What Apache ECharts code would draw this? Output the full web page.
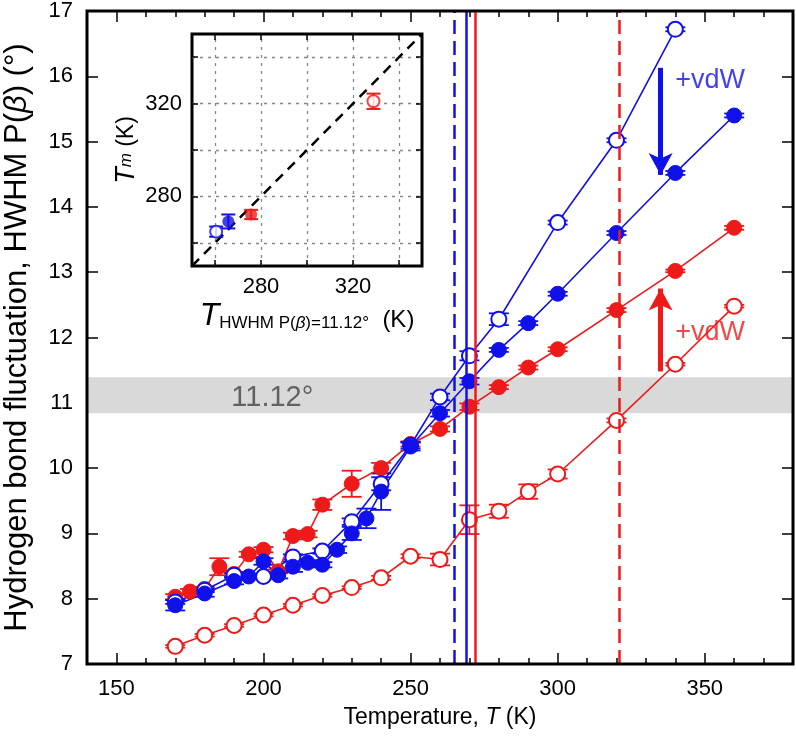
<!DOCTYPE html>
<html><head><meta charset="utf-8">
<script src="https://cdn.jsdelivr.net/npm/echarts@6/dist/echarts.min.js"></script>
<style>html,body{margin:0;padding:0;background:#fff}#c{width:796px;height:741px}</style>
</head><body><div id="c"></div>
<script>
// ---- data ----
const blueOpenT = [170,180,190,200,210,220,230,240,250,260,270,280,300,320,340];
const blueOpenV = [7.95,8.13,8.36,8.34,8.64,8.73,9.18,9.76,10.35,11.09,11.72,12.28,13.76,15.02,16.72];
const blueOpenE = [0.03,0.03,0.03,0.03,0.04,0.04,0.05,0.1,0.05,0.05,0.07,0.09,0.03,0.03,0.03];

const blueFillT = [170,180,190,195,200,205,210,215,220,225,230,235,240,250,260,270,280,290,300,320,340,360];
const blueFillV = [7.9,8.08,8.27,8.34,8.57,8.36,8.49,8.55,8.52,8.75,9.0,9.23,9.64,10.33,10.84,11.33,11.81,12.22,12.67,13.6,14.52,15.4];
const blueFillE = [0.08,0.05,0.05,0.04,0.05,0.05,0.08,0.04,0.04,0.05,0.1,0.15,0.28,0.06,0.05,0.05,0.03,0.03,0.03,0.03,0.03,0.03];

const redFillT = [170,175,180,185,190,195,200,205,210,215,220,230,240,250,260,270,280,290,300,320,340,360];
const redFillV = [8.03,8.11,8.15,8.49,8.38,8.68,8.75,8.42,8.96,8.99,9.44,9.76,10.0,10.37,10.6,10.94,11.24,11.54,11.82,12.42,13.02,13.68];
const redFillE = [0.04,0.04,0.03,0.13,0.03,0.04,0.04,0.03,0.05,0.05,0.08,0.2,0.08,0.04,0.04,0.05,0.03,0.03,0.03,0.03,0.02,0.03];

const redOpenT = [170,180,190,200,210,220,230,240,250,260,270,280,290,300,320,340,360];
const redOpenV = [7.27,7.44,7.59,7.75,7.9,8.05,8.17,8.32,8.65,8.6,9.21,9.34,9.64,9.91,10.73,11.59,12.48];
const redOpenE = [0.02,0.02,0.02,0.02,0.02,0.02,0.02,0.03,0.03,0.09,0.22,0.1,0.11,0.07,0.03,0.02,0.02];

// Tm (vertical lines / inset y) and T_HWHM (inset x): blue open, blue filled, red filled, red open
const tHWHM = [260.5, 265.8, 275.7, 328.9];
const tMelt = [264.8, 269.2, 272.2, 321.0];
const tMeltErr = [2.2, 3.0, 2.0, 3.3];

const bandRange = [10.84, 11.39];
const bandLabel = '11.12°';
const bandLabelPos = [203, 11.07];
const blueArrow = [335, 16.13, 14.49];
const redArrow = [335, 11.48, 12.75];
const vdwText = '+vdW';
const blueTextPos = [340, 15.94];
const redTextPos = [340, 12.07];
const diag = [250, 350];

const xMajor = [150,200,250,300,350];
const xMinor = [150,160,170,180,190,200,210,220,230,240,250,260,270,280,290,300,310,320,330,340,350,360,370];
const insetTicks = [260,280,300,320,340];
const insetLabels = [280,320];

// ---- style ----
const BLUE = '#1010ea', RED = '#ee1a1a';
const FONT = 'Liberation Sans';
const sty = [
  {c: BLUE, open: true, dash: [14, 7]},
  {c: BLUE, open: false, dash: 'solid'},
  {c: RED, open: false, dash: 'solid'},
  {c: RED, open: true, dash: [14, 7]}
];

function errSeries(T, V, E, color, xi, yi, capW, lw, z) {
  return {
    type: 'custom', xAxisIndex: xi, yAxisIndex: yi, z: z, silent: true,
    renderItem: function (params, api) {
      const x = api.value(0), y = api.value(1), e = api.value(2);
      const p1 = api.coord([x, y - e]), p2 = api.coord([x, y + e]);
      const h = capW / 2;
      const s = {stroke: color, lineWidth: lw};
      return {type: 'group', children: [
        {type: 'line', shape: {x1: p1[0], y1: p1[1], x2: p2[0], y2: p2[1]}, style: s},
        {type: 'line', shape: {x1: p1[0] - h, y1: p1[1], x2: p1[0] + h, y2: p1[1]}, style: s},
        {type: 'line', shape: {x1: p2[0] - h, y1: p2[1], x2: p2[0] + h, y2: p2[1]}, style: s}
      ]};
    },
    data: T.map((t, i) => [t, V[i], E[i]])
  };
}
function lineSeries(T, V, st) {
  return {
    type: 'line', xAxisIndex: 0, yAxisIndex: 0, z: 4, silent: true,
    data: T.map((t, i) => [t, V[i]]),
    symbol: 'circle', symbolSize: 15,
    lineStyle: {color: st.c, width: 1.6},
    itemStyle: st.open ? {color: '#fff', borderColor: st.c, borderWidth: 2} : {color: st.c, borderColor: st.c, borderWidth: 1},
    emphasis: {disabled: true}
  };
}

const series = [];
// gray band
series.push({
  type: 'line', xAxisIndex: 0, yAxisIndex: 0, data: [], z: 1, silent: true,
  markArea: {silent: true, itemStyle: {color: '#d9d9d9'}, data: [[{yAxis: bandRange[0]}, {yAxis: bandRange[1]}]]}
});
series.push({
  type: 'scatter', xAxisIndex: 0, yAxisIndex: 0, z: 2, silent: true, symbolSize: 0,
  data: [bandLabelPos],
  label: {show: true, position: 'inside', formatter: bandLabel, fontFamily: FONT, fontSize: 29, color: '#444'}
});
// vertical lines
tMelt.forEach((t, i) => {
  series.push({
    type: 'line', xAxisIndex: 0, yAxisIndex: 0, data: [], z: 2, silent: true,
    markLine: {silent: true, symbol: 'none', animation: false, label: {show: false},
      lineStyle: {color: sty[i].c, width: 2.5, type: sty[i].dash},
      data: [{xAxis: Math.round(t)}]}
  });
});
// arrows
[[blueArrow, BLUE], [redArrow, RED]].forEach(([a, c]) => {
  series.push({
    type: 'line', xAxisIndex: 0, yAxisIndex: 0, data: [], z: 5, silent: true,
    markLine: {silent: true, animation: false, symbol: ['none', 'arrow'], symbolSize: [18, 22], label: {show: false},
      lineStyle: {color: c, width: 5, type: 'solid'},
      data: [[{coord: [a[0], a[1]]}, {coord: [a[0], a[2]]}]]}
  });
});
// +vdW texts
[[blueTextPos, BLUE], [redTextPos, RED]].forEach(([p, c]) => {
  series.push({
    type: 'scatter', xAxisIndex: 0, yAxisIndex: 0, z: 6, silent: true, symbolSize: 0,
    data: [p],
    label: {show: true, position: 'right', distance: 0, formatter: vdwText, fontFamily: FONT, fontSize: 27, color: c}
  });
});
// data (drawing order: red open, red filled, blue open, blue filled)
const main = [[blueOpenT, blueOpenV, blueOpenE], [blueFillT, blueFillV, blueFillE], [redFillT, redFillV, redFillE], [redOpenT, redOpenV, redOpenE]];
[3, 2, 0, 1].forEach(i => {
  const [T, V, E] = main[i];
  series.push(errSeries(T, V, E, sty[i].c, 0, 0, 20, 1.8, 3));
  series.push(lineSeries(T, V, sty[i]));
});

// inset
series.push({
  type: 'line', xAxisIndex: 4, yAxisIndex: 2, z: 13, silent: true, symbol: 'none',
  data: [[diag[0], diag[0]], [diag[1], diag[1]]],
  lineStyle: {color: '#000', width: 2.5, type: [10, 7]},
  markLine: {silent: true, z: 12, symbol: 'none', animation: false, label: {show: false},
    lineStyle: {color: '#888', width: 1.3, type: [3, 5]},
    data: insetTicks.map(v => ({xAxis: v})).concat(insetTicks.map(v => ({yAxis: v})))}
});
tHWHM.forEach((x, i) => {
  series.push(errSeries([x], [tMelt[i]], [tMeltErr[i]], sty[i].c, 4, 2, 14, 2, 14));
  series.push({
    type: 'scatter', xAxisIndex: 4, yAxisIndex: 2, z: 15, silent: true,
    data: [[x, tMelt[i]]], symbol: 'circle', symbolSize: 12,
    itemStyle: sty[i].open ? {color: '#fff', borderColor: sty[i].c, borderWidth: 2} : {color: sty[i].c}
  });
});

const tickLbl = {fontFamily: FONT, fontSize: 22, color: '#000'};
const MG = {left: 87, right: 3, top: 11, bottom: 77};
const IG = {left: 192, top: 34, width: 230, height: 232};

const option = {
  animation: false,
  backgroundColor: '#fff',
  grid: [
    Object.assign({show: true, borderColor: '#000', borderWidth: 3, backgroundColor: 'transparent', z: 10, containLabel: false, outerBoundsMode: 'none'}, MG),
    Object.assign({show: true, borderColor: '#000', borderWidth: 3, backgroundColor: '#fff', z: 11, containLabel: false, outerBoundsMode: 'none'}, IG)
  ],
  xAxis: [
    {gridIndex: 0, type: 'value', min: 140, max: 380, position: 'bottom',
      axisLine: {show: false}, splitLine: {show: false},
      axisTick: {show: true, inside: true, length: 11, customValues: xMajor, lineStyle: {color: '#000', width: 1.5}},
      axisLabel: Object.assign({customValues: xMajor, margin: 14}, tickLbl),
      name: 'Temperature, {i|T} (K)', nameLocation: 'middle', nameGap: 42,
      nameTextStyle: {fontFamily: FONT, fontSize: 23, color: '#000', rich: {i: {fontFamily: FONT, fontSize: 23, fontStyle: 'italic'}}}},
    {gridIndex: 0, type: 'value', min: 140, max: 380, position: 'top',
      axisLine: {show: false}, splitLine: {show: false}, axisLabel: {show: false},
      axisTick: {show: true, inside: true, length: 11, customValues: xMajor, lineStyle: {color: '#000', width: 1.5}}},
    {gridIndex: 0, type: 'value', min: 140, max: 380, position: 'bottom',
      axisLine: {show: false}, splitLine: {show: false}, axisLabel: {show: false},
      axisTick: {show: true, inside: true, length: 6, customValues: xMinor, lineStyle: {color: '#000', width: 1.5}}},
    {gridIndex: 0, type: 'value', min: 140, max: 380, position: 'top',
      axisLine: {show: false}, splitLine: {show: false}, axisLabel: {show: false},
      axisTick: {show: true, inside: true, length: 6, customValues: xMinor, lineStyle: {color: '#000', width: 1.5}}},
    {gridIndex: 1, type: 'value', min: 250, max: 350, position: 'bottom', z: 12,
      axisLine: {show: false}, splitLine: {show: false},
      axisTick: {show: true, inside: true, length: 6, customValues: insetTicks, lineStyle: {color: '#000', width: 1.5}},
      axisLabel: Object.assign({customValues: insetLabels, margin: 10}, tickLbl),
      name: '{t|T}{s|HWHM P(}{si|β}{s|)=11.12°}{k|  (K)}', nameLocation: 'middle', nameGap: 36,
      nameTextStyle: {rich: {
        t: {fontFamily: FONT, fontSize: 32, fontStyle: 'italic', color: '#000', verticalAlign: 'bottom', lineHeight: 30},
        s: {fontFamily: FONT, fontSize: 17, color: '#000', verticalAlign: 'bottom', lineHeight: 12},
        si: {fontFamily: FONT, fontSize: 17, fontStyle: 'italic', color: '#000', verticalAlign: 'bottom', lineHeight: 12},
        k: {fontFamily: FONT, fontSize: 24, color: '#000', verticalAlign: 'bottom', lineHeight: 28}
      }}},
    {gridIndex: 1, type: 'value', min: 250, max: 350, position: 'top', z: 12,
      axisLine: {show: false}, splitLine: {show: false}, axisLabel: {show: false},
      axisTick: {show: true, inside: true, length: 6, customValues: insetTicks, lineStyle: {color: '#000', width: 1.5}}}
  ],
  yAxis: [
    {gridIndex: 0, type: 'value', min: 7, max: 17, interval: 1, position: 'left',
      axisLine: {show: false}, splitLine: {show: false},
      axisTick: {show: true, inside: true, length: 11, lineStyle: {color: '#000', width: 1.5}},
      axisLabel: Object.assign({margin: 14}, tickLbl),
      name: 'Hydrogen bond fluctuation, HWHM P({i|β}) (°)', nameLocation: 'middle', nameGap: 54,
      nameTextStyle: {fontFamily: FONT, fontSize: 31, color: '#000', rich: {i: {fontFamily: FONT, fontSize: 31, fontStyle: 'italic'}}}},
    {gridIndex: 0, type: 'value', min: 7, max: 17, interval: 1, position: 'right',
      axisLine: {show: false}, splitLine: {show: false}, axisLabel: {show: false},
      axisTick: {show: true, inside: true, length: 11, lineStyle: {color: '#000', width: 1.5}}},
    {gridIndex: 1, type: 'value', min: 250, max: 350, position: 'left', z: 12,
      axisLine: {show: false}, splitLine: {show: false},
      axisTick: {show: true, inside: true, length: 6, customValues: insetTicks, lineStyle: {color: '#000', width: 1.5}},
      axisLabel: Object.assign({customValues: insetLabels, margin: 10}, tickLbl),
      name: '{t|T}{s|m} (K)', nameLocation: 'middle', nameGap: 52,
      nameTextStyle: {fontFamily: FONT, fontSize: 23, color: '#000', rich: {
        t: {fontFamily: FONT, fontSize: 27, fontStyle: 'italic', color: '#000'},
        s: {fontFamily: FONT, fontSize: 17, fontStyle: 'italic', color: '#000'}
      }}},
    {gridIndex: 1, type: 'value', min: 250, max: 350, position: 'right', z: 12,
      axisLine: {show: false}, splitLine: {show: false}, axisLabel: {show: false},
      axisTick: {show: true, inside: true, length: 6, customValues: insetTicks, lineStyle: {color: '#000', width: 1.5}}}
  ],
  series: series
};
const chart = echarts.init(document.getElementById('c'), null, {renderer: 'canvas'});
chart.setOption(option);
</script>
</body></html>
